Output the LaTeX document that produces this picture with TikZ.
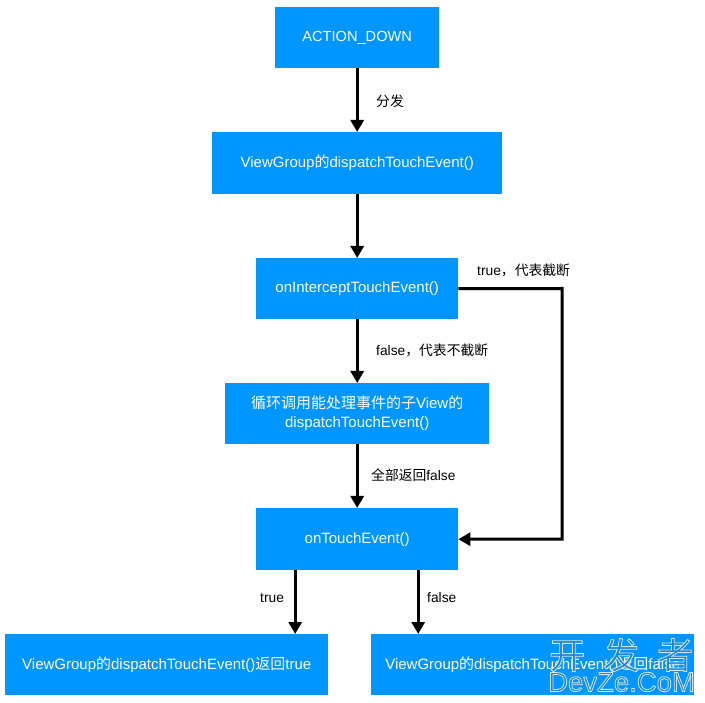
\documentclass[tikz,border=0pt]{standalone}
\usepackage{fontspec}
\setmainfont{Liberation Sans}
\newfontfamily\cjk{Noto Sans CJK SC}
\usetikzlibrary{arrows.meta,calc}
\newcommand{\zh}[1]{{\cjk #1}}
\definecolor{boxblue}{HTML}{0096FF}
\definecolor{wmfill}{HTML}{1F84D0}
\tikzset{
  x=1pt,y=-1pt,
  flow/.style={fill=boxblue,draw=none,text=white,font=\fontsize{15}{19}\selectfont,align=center,inner sep=0pt,anchor=north west},
  conn/.style={draw=black,line width=3pt,-{Triangle[width=13pt,length=12pt]}},
  lab/.style={font=\fontsize{13.8}{16}\selectfont,text=black,inner sep=0pt},
  wm/.style={text=wmfill,inner sep=0pt}
}
\newcommand{\outl}[1]{\special{pdf:code q 2 Tr 0.8 w 0.82 0.91 0.98 RG}#1\special{pdf:code Q}}
\begin{document}
\begin{tikzpicture}
\useasboundingbox (0,0) rectangle (705,703);
\node[flow,minimum width=164pt,minimum height=61pt,font=\fontsize{14.6}{19}\selectfont] (ad) at (275,7) {ACTION\_DOWN};
\node[flow,minimum width=290pt,minimum height=62pt] (vg) at (212,132) {ViewGroup\zh{的}dispatchTouchEvent()};
\node[flow,minimum width=202pt,minimum height=61pt] (oi) at (256,258) {onInterceptTouchEvent()};
\node[flow,minimum width=264pt,minimum height=61pt] (lp) at (225,383) {\zh{循环调用能处理事件的子}View\zh{的}\\dispatchTouchEvent()};
\node[flow,minimum width=202pt,minimum height=62pt] (ot) at (256,508) {onTouchEvent()};
\node[flow,minimum width=323pt,minimum height=61pt] (bl) at (5,634) {ViewGroup\zh{的}dispatchTouchEvent()\zh{返回}true};
\node[flow,minimum width=323pt,minimum height=61pt] (br) at (371,634) {ViewGroup\zh{的}dispatchTouchEvent()\zh{返回}false};
\coordinate (corner) at (562,288.5);
\draw[conn] (ad.south) -- (vg.north);
\draw[conn] (vg.south) -- (oi.north);
\draw[conn] (oi.south) -- (lp.north);
\draw[conn] (lp.south) -- (ot.north);
\draw[conn] (oi.east) -- (corner) -- (corner |- ot.east) -- (ot.east);
\draw[conn] ([xshift=-62pt]ot.south) -- ([xshift=-62pt]ot.south |- bl.north);
\draw[conn] ([xshift=61pt]ot.south) -- ([xshift=61pt]ot.south |- br.north);
\node[lab,anchor=west] (l1) at (376,101) {\zh{分发}};
\node[lab,anchor=west] (l2) at (477,270) {true\zh{，代表截断}};
\node[lab,anchor=west] (l3) at (376,350) {false\zh{，代表不截断}};
\node[lab,anchor=west] (l4) at (371,475) {\zh{全部返回}false};
\node[lab,anchor=west] (l5) at (260,598) {true};
\node[lab,anchor=west] (l6) at (427,597.5) {false};
\node[wm,anchor=west,font=\cjk\fontsize{36}{36}\selectfont] (w1) at (549,655) {\outl{开\hspace{18pt}发\hspace{18pt}者}};
\node[wm,anchor=west,font=\fontsize{27.5}{28}\selectfont] (w2) at (548,682) {\outl{DevZe.CoM}};
\end{tikzpicture}
\end{document}
